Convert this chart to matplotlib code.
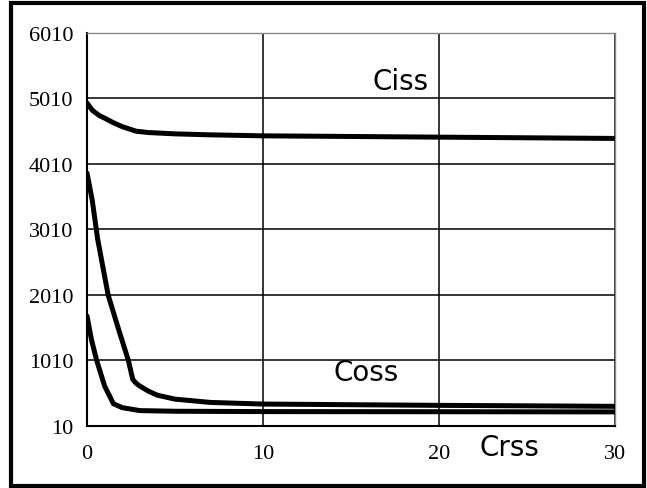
import matplotlib
matplotlib.use("Agg")
import matplotlib.pyplot as plt
from matplotlib.patches import Rectangle

# capacitance curves (pF) vs voltage (V)
v_ciss = [0, 0.3, 0.7, 1.0, 1.5, 2.0, 2.8, 3.5, 5, 7, 10, 15, 20, 25, 30]
ciss = [4940, 4830, 4750, 4710, 4640, 4580, 4510, 4490, 4470, 4455, 4440, 4430, 4420, 4410, 4400]

v_coss = [0, 0.3, 0.6, 1.2, 1.8, 2.35, 2.6, 2.8, 3.0, 3.5, 4, 5, 7, 10, 15, 20, 25, 30]
coss = [3870, 3450, 2870, 2010, 1480, 1010, 720, 660, 620, 540, 480, 420, 370, 345, 335, 325, 318, 310]

v_crss = [0, 0.25, 0.55, 1.0, 1.5, 2.0, 3.0, 5, 10, 20, 30]
crss = [1690, 1330, 1010, 620, 350, 290, 245, 235, 230, 228, 225]

xticks = [0, 10, 20, 30]
yticks = [10, 1010, 2010, 3010, 4010, 5010, 6010]

plt.rcParams['font.family'] = 'Liberation Serif'

fig = plt.figure(figsize=(6.47, 4.89), dpi=100)
ax = fig.add_axes([0.1345, 0.1268, 0.816, 0.8037])

for xs, ys in [(v_ciss, ciss), (v_coss, coss), (v_crss, crss)]:
    ax.plot(xs, ys, color='black', lw=3.6, solid_capstyle='round',
            solid_joinstyle='round', zorder=3)

ax.set_xlim(0, 30)
ax.set_ylim(10, 6010)
ax.set_xticks(xticks)
ax.set_yticks(yticks)
ax.grid(True, color='black', lw=1.1)
ax.tick_params(axis='y', length=0, pad=10, labelsize=16)
ax.tick_params(axis='x', length=0, pad=13, labelsize=16)

ax.spines['left'].set_linewidth(1.5)
ax.spines['bottom'].set_linewidth(1.5)
for s in ['top', 'right']:
    ax.spines[s].set_color('#888888')
    ax.spines[s].set_linewidth(1.0)

lab_font = dict(fontsize=20, ha='center', va='center', family='DejaVu Sans')
ax.text(17.8, 5277, 'Ciss', **lab_font)
ax.text(15.85, 834, 'Coss', **lab_font)
ax.text(24.0, -310, 'Crss', clip_on=False, **lab_font)

# outer frame
fig.patches.append(Rectangle((11 / 647, 2 / 489), 633 / 647, 483 / 489,
                             transform=fig.transFigure, fill=False,
                             edgecolor='black', lw=3.0))

fig.savefig('out.png', dpi=100)
